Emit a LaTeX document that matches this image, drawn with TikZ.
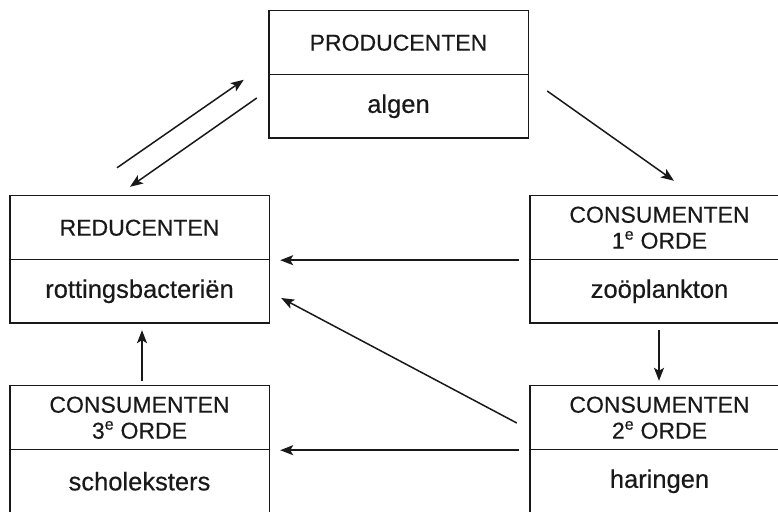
\documentclass[tikz,border=0pt]{standalone}
\usepackage{fontspec}
\setmainfont{Liberation Sans}[FakeBold=0.4]
\usetikzlibrary{arrows.meta,calc}
\begin{document}
\begin{tikzpicture}[x=1pt,y=1pt,
  cell/.style={rectangle, minimum width=259pt, minimum height=63.5pt,
    inner sep=0pt, align=center, font=\fontsize{23}{26}\selectfont, text=black!90},
  lower/.style={cell, font=\fontsize{25.5}{28}\selectfont},
  frame/.style={draw=black!90, line width=1.4pt, line cap=rect},
  flow/.style={draw=black!90, line width=1.5pt, -{Stealth[length=13pt,width=10pt,inset=3pt]}}]
\useasboundingbox (0,0) rectangle (778,511);
\node[cell] (prodtop) at (398.5,468.25) {PRODUCENTEN};
\node[lower] (prodbot) at (398.5,404.75) {algen};
\node[cell] (redtop) at (139.5,283.25) {REDUCENTEN};
\node[lower] (redbot) at (139.5,219.75) {rottingsbacteriën};
\node[cell] (c1top) at (659.5,283.25) {CONSUMENTEN\\1\textsuperscript{e} ORDE};
\node[lower] (c1bot) at (659.5,219.75) {zoöplankton};
\node[cell] (c3top) at (139.5,93.25) {CONSUMENTEN\\3\textsuperscript{e} ORDE};
\node[lower] (c3bot) at (139.5,29.75) {scholeksters};
\node[cell] (c2top) at (659.5,93.25) {CONSUMENTEN\\2\textsuperscript{e} ORDE};
\node[lower] (c2bot) at (659.5,29.75) {haringen};
\begin{scope}
\clip (0,0) rectangle (778,511);
% closed boxes
\draw[frame] (prodtop.north west) rectangle (prodbot.south east);
\draw[frame] (prodtop.south west) -- (prodtop.south east);
\draw[frame] (redtop.north west) rectangle (redbot.south east);
\draw[frame] (redtop.south west) -- (redtop.south east);
% boxes cut by the right and bottom edges
\draw[frame] (c1top.north east) -- (c1top.north west) -- (c1bot.south west) -- (c1bot.south east);
\draw[frame] (c1top.south west) -- (c1top.south east);
\draw[frame] (c3bot.south west) -- (c3top.north west) -- (c3top.north east) -- (c3bot.south east);
\draw[frame] (c3top.south west) -- (c3top.south east);
\draw[frame] (c2top.north east) -- (c2top.north west) -- (c2bot.south west);
\draw[frame] (c2top.south west) -- (c2top.south east);
\end{scope}
\draw[flow] ($(redtop.north)+(-22.5,28)$) -- ($(prodbot.north west)+(-25,-5.5)$);
\draw[flow] ($(prodbot.west)+(-12,8.25)$) -- ($(redtop.north)+(-9.5,9)$);
\draw[flow] ($(prodbot.east)+(19,15.25)$) -- ($(c1top.north)+(14.5,15)$);
\draw[flow, shorten <=11pt, shorten >=11pt] ($(c1top.south west)+(0,-0.5)$) -- ($(redtop.south east)+(0,-0.5)$);
\draw[flow] ($(c2top.west)+(-13,-5.25)$) -- ($(redbot.east)+(12,-6.75)$);
\draw[flow, shorten <=11pt, shorten >=11pt] ($(c2top.south west)+(0,-0.5)$) -- ($(c3top.south east)+(0,-0.5)$);
\draw[flow] ($(c3top.north)+(2.5,5)$) -- ($(redbot.south)+(2.5,-7)$);
\draw[flow] ($(c1bot.south)+(-0.5,-7)$) -- ($(c2top.north)+(-0.5,5)$);
\end{tikzpicture}
\end{document}
